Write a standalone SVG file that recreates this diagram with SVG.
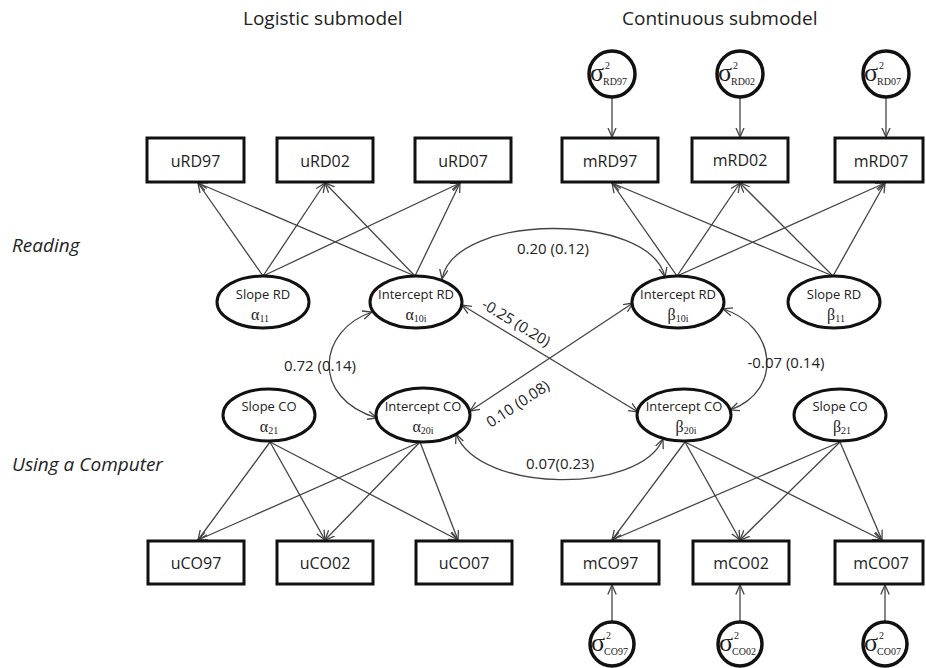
<svg xmlns="http://www.w3.org/2000/svg" width="926" height="668" viewBox="0 0 926 668">
<style>
.bg{fill:#ffffff}
.box{fill:#ffffff;stroke:#111;stroke-width:3}
.ell{fill:#ffffff;stroke:#111;stroke-width:3}
.circ{fill:#ffffff;stroke:#111;stroke-width:3.5}
.bt{font-family:"Open Sans","Liberation Sans",sans-serif;font-size:16px;fill:#222;text-anchor:middle}
.et{font-family:"Open Sans","Liberation Sans",sans-serif;font-size:13px;fill:#222;text-anchor:middle}
.gk{font-family:"Liberation Serif","DejaVu Serif",serif;font-size:16px;fill:#222;text-anchor:middle}
.gs{font-size:10px}
.sg{font-family:"Liberation Serif","DejaVu Serif",serif;font-size:26px;fill:#222}
.ss{font-family:"Liberation Serif","DejaVu Serif",serif;font-size:10px;fill:#222}
.ttl{font-family:"Open Sans","Liberation Sans",sans-serif;font-size:19px;fill:#222}
.side{font-family:"Open Sans","Liberation Sans",sans-serif;font-size:19px;font-style:italic;fill:#222}
.lbl{font-family:"Open Sans","Liberation Sans",sans-serif;font-size:15px;fill:#222}
.cn{fill:none;stroke:#444;stroke-width:1.3;marker-end:url(#ah)}
.cv{fill:none;stroke:#444;stroke-width:1.3;marker-end:url(#ah);marker-start:url(#ah)}
</style>
<defs>
<marker id="ah" viewBox="0 0 10 10" refX="9.5" refY="5" markerWidth="10" markerHeight="10" markerUnits="userSpaceOnUse" orient="auto-start-reverse">
<path d="M0,0.8 L9.5,5 L0,9.2" fill="none" stroke="#444" stroke-width="1.3"/>
</marker>
</defs>
<rect class="bg" x="0" y="0" width="926" height="668"/>

<g id="titles">
<text class="ttl" x="243" y="25">Logistic submodel</text>
<text class="ttl" x="622" y="25">Continuous submodel</text>
<text class="side" x="12" y="252">Reading</text>
<text class="side" x="12" y="471">Using a Computer</text>
</g>

<g id="connectors">
<line class="cn" x1="612" y1="98" x2="612" y2="137"/>
<line class="cn" x1="740" y1="98" x2="740" y2="137"/>
<line class="cn" x1="886" y1="98" x2="886" y2="137"/>
<line class="cn" x1="612" y1="621" x2="612" y2="585"/>
<line class="cn" x1="740" y1="621" x2="740" y2="585"/>
<line class="cn" x1="885" y1="621" x2="885" y2="585"/>
<line class="cn" x1="263" y1="276" x2="198" y2="183"/>
<line class="cn" x1="263" y1="276" x2="325" y2="183"/>
<line class="cn" x1="263" y1="276" x2="460" y2="183"/>
<line class="cn" x1="415" y1="276" x2="198" y2="183"/>
<line class="cn" x1="415" y1="276" x2="325" y2="183"/>
<line class="cn" x1="415" y1="276" x2="460" y2="183"/>
<line class="cn" x1="677" y1="276" x2="612" y2="183"/>
<line class="cn" x1="677" y1="276" x2="740" y2="183"/>
<line class="cn" x1="677" y1="276" x2="885" y2="183"/>
<line class="cn" x1="833" y1="276" x2="612" y2="183"/>
<line class="cn" x1="833" y1="276" x2="740" y2="183"/>
<line class="cn" x1="833" y1="276" x2="885" y2="183"/>
<line class="cn" x1="270" y1="442" x2="198" y2="540"/>
<line class="cn" x1="270" y1="442" x2="325" y2="540"/>
<line class="cn" x1="270" y1="442" x2="458" y2="540"/>
<line class="cn" x1="420" y1="442" x2="198" y2="540"/>
<line class="cn" x1="420" y1="442" x2="325" y2="540"/>
<line class="cn" x1="420" y1="442" x2="458" y2="540"/>
<line class="cn" x1="685" y1="442" x2="612" y2="540"/>
<line class="cn" x1="685" y1="442" x2="740" y2="540"/>
<line class="cn" x1="685" y1="442" x2="882" y2="540"/>
<line class="cn" x1="840" y1="442" x2="612" y2="540"/>
<line class="cn" x1="840" y1="442" x2="740" y2="540"/>
<line class="cn" x1="840" y1="442" x2="882" y2="540"/>
<path class="cv" d="M442,279 C455,212 650,212 665,277"/>
<path class="cv" d="M372,312 C318,330 310,398 377,418"/>
<path class="cv" d="M723,309 C775,325 785,390 730,410"/>
<path class="cv" d="M456,434 C480,494 640,494 663,439"/>
<line class="cv" x1="462" y1="305" x2="638" y2="412"/>
<line class="cv" x1="470" y1="411" x2="633" y2="303"/>
<text class="lbl" x="553" y="254" text-anchor="middle">0.20 (0.12)</text>
<text class="lbl" x="320" y="371" text-anchor="middle">0.72 (0.14)</text>
<text class="lbl" x="786" y="368" text-anchor="middle">-0.07 (0.14)</text>
<text class="lbl" x="560" y="469" text-anchor="middle">0.07(0.23)</text>
<text class="lbl" text-anchor="middle" transform="translate(516,323) rotate(31.5)" y="5">-0.25 (0.20)</text>
<text class="lbl" text-anchor="middle" transform="translate(518,404) rotate(-33.5)" y="5">0.10 (0.08)</text>
</g>

<g id="uRD97"><rect class="box" x="147" y="138" width="97" height="44"/><text class="bt" x="195.5" y="167">uRD97</text></g>
<g id="uRD02"><rect class="box" x="277" y="138" width="96" height="44"/><text class="bt" x="325" y="167">uRD02</text></g>
<g id="uRD07"><rect class="box" x="415" y="138" width="96" height="44"/><text class="bt" x="463" y="167">uRD07</text></g>
<g id="mRD97"><rect class="box" x="562" y="138" width="96" height="44"/><text class="bt" x="610" y="167">mRD97</text></g>
<g id="mRD02"><rect class="box" x="692" y="138" width="96" height="44"/><text class="bt" x="740" y="166">mRD02</text></g>
<g id="mRD07"><rect class="box" x="835" y="138" width="88" height="44"/><text class="bt" x="881" y="167">mRD07</text></g>

<g id="uCO97"><rect class="box" x="148" y="541" width="96" height="43"/><text class="bt" x="196" y="569">uCO97</text></g>
<g id="uCO02"><rect class="box" x="277" y="541" width="96" height="43"/><text class="bt" x="325" y="569">uCO02</text></g>
<g id="uCO07"><rect class="box" x="416" y="541" width="96" height="43"/><text class="bt" x="464" y="569">uCO07</text></g>
<g id="mCO97"><rect class="box" x="562" y="541" width="97" height="43"/><text class="bt" x="610.5" y="569">mCO97</text></g>
<g id="mCO02"><rect class="box" x="693" y="541" width="96" height="43"/><text class="bt" x="741" y="569">mCO02</text></g>
<g id="mCO07"><rect class="box" x="835" y="541" width="88" height="43"/><text class="bt" x="881" y="569">mCO07</text></g>

<g id="slopeRD_a"><ellipse class="ell" cx="263" cy="302" rx="46" ry="26"/><text class="et" x="263" y="299">Slope RD</text><text class="gk" x="260" y="320">α<tspan class="gs" dy="2">11</tspan></text></g>
<g id="interceptRD_a"><ellipse class="ell" cx="416" cy="302" rx="46" ry="26"/><text class="et" x="416" y="299">Intercept RD</text><text class="gk" x="416" y="320">α<tspan class="gs" dy="2">10i</tspan></text></g>
<g id="interceptRD_b"><ellipse class="ell" cx="678" cy="302" rx="46" ry="26"/><text class="et" x="678" y="299">Intercept RD</text><text class="gk" x="678" y="320">β<tspan class="gs" dy="2">10i</tspan></text></g>
<g id="slopeRD_b"><ellipse class="ell" cx="834" cy="302" rx="46" ry="26"/><text class="et" x="834" y="299">Slope RD</text><text class="gk" x="836" y="320">β<tspan class="gs" dy="2">11</tspan></text></g>
<g id="slopeCO_a"><ellipse class="ell" cx="269" cy="415" rx="46" ry="26"/><text class="et" x="269" y="411">Slope CO</text><text class="gk" x="269" y="432">α<tspan class="gs" dy="2">21</tspan></text></g>
<g id="interceptCO_a"><ellipse class="ell" cx="423" cy="415" rx="47" ry="27"/><text class="et" x="423" y="411">Intercept CO</text><text class="gk" x="423" y="432">α<tspan class="gs" dy="2">20i</tspan></text></g>
<g id="interceptCO_b"><ellipse class="ell" cx="684" cy="415" rx="47" ry="26"/><text class="et" x="684" y="411">Intercept CO</text><text class="gk" x="686" y="432">β<tspan class="gs" dy="2">20i</tspan></text></g>
<g id="slopeCO_b"><ellipse class="ell" cx="840" cy="415" rx="46" ry="26"/><text class="et" x="840" y="411">Slope CO</text><text class="gk" x="842" y="432">β<tspan class="gs" dy="2">21</tspan></text></g>

<g id="sigRD97"><circle class="circ" cx="612" cy="74" r="23"/><text class="sg" x="590" y="81">σ</text><text class="ss" x="605" y="69">2</text><text class="ss" x="603" y="85">RD97</text></g>
<g id="sigRD02"><circle class="circ" cx="740" cy="74" r="23"/><text class="sg" x="718" y="81">σ</text><text class="ss" x="733" y="69">2</text><text class="ss" x="731" y="85">RD02</text></g>
<g id="sigRD07"><circle class="circ" cx="886" cy="74" r="23"/><text class="sg" x="864" y="81">σ</text><text class="ss" x="879" y="69">2</text><text class="ss" x="877" y="85">RD07</text></g>
<g id="sigCO97"><circle class="circ" cx="612" cy="644" r="22"/><text class="sg" x="591" y="651">σ</text><text class="ss" x="606" y="639">2</text><text class="ss" x="604" y="655">CO97</text></g>
<g id="sigCO02"><circle class="circ" cx="740" cy="644" r="22"/><text class="sg" x="719" y="651">σ</text><text class="ss" x="734" y="639">2</text><text class="ss" x="732" y="655">CO02</text></g>
<g id="sigCO07"><circle class="circ" cx="885" cy="644" r="22"/><text class="sg" x="864" y="651">σ</text><text class="ss" x="879" y="639">2</text><text class="ss" x="877" y="655">CO07</text></g>
</svg>
